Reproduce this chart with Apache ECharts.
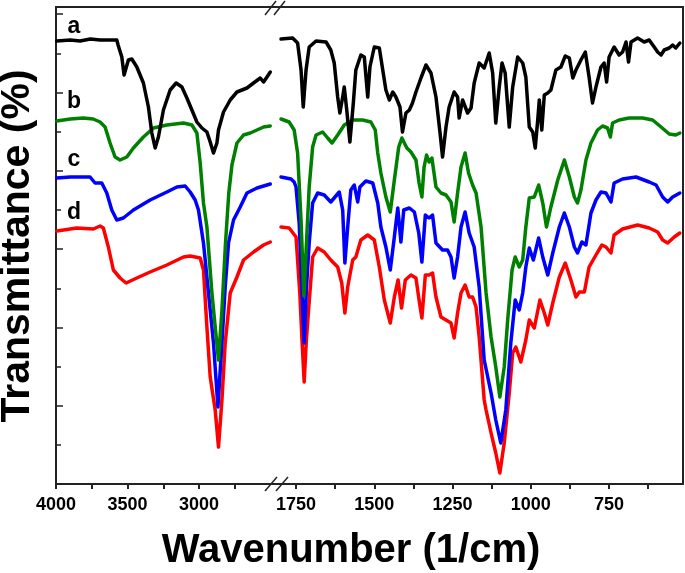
<!DOCTYPE html>
<html>
<head>
<meta charset="utf-8">
<script src="https://cdn.jsdelivr.net/npm/echarts@6/dist/echarts.min.js"></script>
<style>
html,body{margin:0;padding:0;background:#fff;}
#chart{width:685px;height:573px;}
</style>
</head>
<body>
<div id="chart"></div>
<script>
// Tick values and labels (wavenumber, cm^-1)
const leftTickValues = [4000, 3750, 3500, 3250, 3000, 2750];
const leftLabelValues = [4000, 3500, 3000];
const rightTickValues = [1750, 1625, 1500, 1375, 1250, 1125, 1000, 875, 750, 625];
const rightLabelValues = [1750, 1500, 1250, 1000, 750];
const seriesNames = ['a', 'b', 'c', 'd'];

// Spectrum a (black), [wavenumber, transmittance (arb.)]
const aLeft = [[3995,444],[3900,445],[3832,444],[3760,446],[3692,445],[3620,445],[3575,445],[3566,440],[3540,428],[3524,410],[3494,425],[3470,426],[3435,418],[3389,402],[3354,378],[3330,352],[3307,337],[3284,348],[3249,375],[3202,395],[3160,402],[3120,398],[3085,387],[3050,375],[3015,363],[2980,357],[2945,353],[2922,343],[2899,332],[2875,342],[2864,355],[2829,373],[2782,385],[2735,393],[2665,397],[2619,402],[2572,407],[2549,403],[2525,408],[2502,413]];
const aRight = [[1798,446],[1761,447],[1745,442],[1734,415],[1727,378],[1718,415],[1708,438],[1686,444],[1654,443],[1639,435],[1628,422],[1617,388],[1610,372],[1601,388],[1596,398],[1588,375],[1578,343],[1567,382],[1559,415],[1543,430],[1532,428],[1521,388],[1514,418],[1500,438],[1484,437],[1473,415],[1463,395],[1452,385],[1441,393],[1431,388],[1418,378],[1410,353],[1399,372],[1388,375],[1378,382],[1367,393],[1351,407],[1335,420],[1319,412],[1303,388],[1290,352],[1282,328],[1271,358],[1261,378],[1245,393],[1234,388],[1229,367],[1218,385],[1202,372],[1191,377],[1181,402],[1165,422],[1149,417],[1133,432],[1122,412],[1112,362],[1101,398],[1092,422],[1082,412],[1069,358],[1058,398],[1042,428],[1026,422],[1016,408],[1005,358],[994,353],[986,337],[978,365],[973,385],[965,355],[957,390],[946,392],[936,395],[920,415],[904,418],[890,429],[877,427],[866,407],[856,415],[840,425],[826,433],[814,408],[803,382],[792,398],[776,418],[766,422],[758,403],[750,428],[734,438],[718,430],[707,433],[696,443],[688,423],[680,443],[659,447],[638,443],[622,445],[606,438],[595,433],[584,430],[574,435],[558,437],[547,440],[537,437],[524,442]];

// Spectrum b (green)
const bLeft = [[3995,364],[3900,366],[3809,367],[3740,366],[3692,363],[3657,358],[3622,342],[3587,328],[3552,325],[3505,328],[3459,337],[3389,348],[3319,357],[3225,360],[3109,362],[3050,360],[3015,352],[2992,322],[2969,282],[2945,258],[2910,192],[2887,158],[2864,125],[2840,175],[2815,242],[2792,292],[2770,320],[2735,342],[2689,350],[2642,352],[2595,355],[2549,358],[2502,359]];
const bRight = [[1798,366],[1772,363],[1756,355],[1745,332],[1734,265],[1725,189],[1708,298],[1697,338],[1686,350],[1665,353],[1649,347],[1635,342],[1617,350],[1596,360],[1569,365],[1537,365],[1511,363],[1497,355],[1489,332],[1479,312],[1463,288],[1449,273],[1436,305],[1422,338],[1412,347],[1396,337],[1383,333],[1367,325],[1357,302],[1348,288],[1341,318],[1333,330],[1325,323],[1316,327],[1303,298],[1287,292],[1271,290],[1255,283],[1245,263],[1234,292],[1223,318],[1210,332],[1199,312],[1186,300],[1175,292],[1159,258],[1143,192],[1127,148],[1112,118],[1099,88],[1085,118],[1074,165],[1060,215],[1050,228],[1037,218],[1026,225],[1016,258],[1005,287],[989,288],[975,300],[962,282],[950,258],[936,278],[914,305],[893,325],[877,308],[861,288],[851,282],[840,295],[824,325],[808,342],[787,355],[771,359],[755,357],[746,348],[739,362],[718,365],[686,367],[643,367],[611,365],[584,358],[558,351],[537,350],[524,352]];

// Spectrum c (blue)
const cLeft = [[3995,307],[3900,308],[3832,308],[3762,308],[3727,302],[3680,302],[3645,292],[3610,275],[3575,265],[3529,267],[3459,275],[3342,285],[3225,293],[3155,298],[3097,299],[3062,293],[3027,285],[3004,275],[2969,242],[2934,192],[2899,142],[2868,78],[2840,142],[2817,198],[2794,242],[2759,265],[2712,278],[2665,292],[2595,297],[2502,301]];
const cRight = [[1798,308],[1766,306],[1756,303],[1750,298],[1740,262],[1731,195],[1724,142],[1717,195],[1708,242],[1697,282],[1681,292],[1660,290],[1639,283],[1612,293],[1601,275],[1594,222],[1585,258],[1575,295],[1564,300],[1553,283],[1546,298],[1527,304],[1505,302],[1489,282],[1479,258],[1463,238],[1449,215],[1436,248],[1425,277],[1415,243],[1406,275],[1388,277],[1372,273],[1358,252],[1348,223],[1337,270],[1325,267],[1314,270],[1303,242],[1282,235],[1266,235],[1255,228],[1245,207],[1234,228],[1223,258],[1210,273],[1197,252],[1181,238],[1165,198],[1149,125],[1127,92],[1112,65],[1096,42],[1080,75],[1064,142],[1050,185],[1037,175],[1026,192],[1016,218],[1005,237],[992,225],[975,247],[962,228],[946,210],[930,232],[909,258],[893,272],[877,258],[861,238],[851,232],[837,243],[824,240],[808,272],[792,285],[776,293],[760,292],[744,283],[734,302],[707,306],[664,308],[622,303],[600,300],[579,288],[563,283],[547,288],[524,292]];

// Spectrum d (red)
const dLeft = [[3995,254],[3900,256],[3855,257],[3739,256],[3692,259],[3669,257],[3634,238],[3599,215],[3552,207],[3510,202],[3435,207],[3342,213],[3225,220],[3109,228],[3062,229],[2992,227],[2969,215],[2945,158],[2922,108],[2887,75],[2864,38],[2840,85],[2817,142],[2782,192],[2735,208],[2689,225],[2619,233],[2549,240],[2502,243]];
const dRight = [[1798,258],[1772,257],[1750,248],[1738,192],[1731,145],[1724,103],[1717,145],[1710,175],[1697,228],[1681,237],[1660,233],[1639,225],[1617,218],[1604,202],[1594,172],[1585,198],[1569,225],[1559,228],[1543,245],[1521,250],[1500,245],[1484,218],[1468,185],[1449,162],[1436,188],[1424,205],[1413,177],[1401,205],[1383,210],[1367,207],[1357,185],[1348,167],[1337,210],[1325,210],[1314,212],[1303,188],[1287,168],[1271,165],[1255,162],[1245,147],[1234,172],[1223,192],[1210,200],[1197,188],[1186,188],[1175,178],[1165,148],[1149,85],[1143,75],[1127,52],[1112,32],[1099,12],[1085,42],[1069,92],[1058,132],[1048,138],[1032,123],[1016,145],[1005,165],[989,157],[971,185],[957,172],[946,160],[930,182],[909,208],[890,222],[872,205],[856,188],[845,193],[829,193],[814,218],[792,230],[773,240],[760,238],[744,232],[734,250],[707,256],[659,260],[622,257],[595,253],[579,245],[563,242],[542,248],[524,252]];

const colors = {a:'#000000', b:'#008000', c:'#0000ff', d:'#ff0000'};
const FONT = '"Liberation Sans", Arial, sans-serif';
const axisColor = '#222';

function lineSeries(name, data, side) {
  return {
    name: name, type: 'line', data: data,
    xAxisIndex: side, yAxisIndex: side,
    showSymbol: false, symbol: 'none', smooth: false,
    lineStyle: {color: colors[name], width: 3.5, join: 'round', cap: 'round'},
    itemStyle: {color: colors[name]},
    silent: true, z: 2
  };
}

const chart = echarts.init(document.getElementById('chart'), null, {renderer: 'canvas'});

const bottomAxis = (grid, min, max, ticks, labels) => ({
  gridIndex: grid, type: 'value', inverse: true, min: min, max: max, position: 'bottom',
  axisLine: {show: true, onZero: false, lineStyle: {color: axisColor, width: 2}},
  axisTick: {show: true, inside: false, length: 5, customValues: ticks, lineStyle: {color: axisColor, width: 2}},
  axisLabel: {show: true, customValues: labels, formatter: v => String(v), margin: 12, fontSize: 18, fontWeight: 'bold', color: '#000', fontFamily: FONT},
  splitLine: {show: false}
});
const topAxis = (grid, min, max) => ({
  gridIndex: grid, type: 'value', inverse: true, min: min, max: max, position: 'top',
  axisLine: {show: true, onZero: false, lineStyle: {color: axisColor, width: 2}},
  axisTick: {show: false}, axisLabel: {show: false}, splitLine: {show: false}
});

const labelY = {a: 27, b: 102, c: 160, d: 213};
const graphics = seriesNames.map(n => ({
  type: 'text', x: 74, y: labelY[n], z: 10,
  style: {text: n, fontSize: 23, fontWeight: 'bold', fontFamily: FONT, fill: '#000', align: 'center', verticalAlign: 'middle'}
}));
graphics.push({
  type: 'text', x: 18, y: 246, rotation: Math.PI / 2, z: 10,
  style: {text: 'Transmittance (%)', fontSize: 41, fontWeight: 'bold', fontFamily: FONT, fill: '#000', align: 'center', verticalAlign: 'middle'}
});
graphics.push({
  type: 'text', x: 351, y: 551, z: 10,
  style: {text: 'Wavenumber (1/cm)', fontSize: 40, fontWeight: 'bold', fontFamily: FONT, fill: '#000', align: 'center', verticalAlign: 'middle'}
});
// axis break marks
[[265,15,276,1],[274,15,285,1],[265,491,277,477],[276,491,288,477]].forEach(s => {
  graphics.push({type: 'line', z: 10, shape: {x1: s[0], y1: s[1], x2: s[2], y2: s[3]}, style: {stroke: axisColor, lineWidth: 1.5}});
});

chart.setOption({
  animation: false,
  backgroundColor: '#fff',
  grid: [
    {left: 56, top: 7, width: 220, height: 477},
    {left: 276, top: 7, width: 407, height: 477}
  ],
  xAxis: [
    bottomAxis(0, 2462, 4000, leftTickValues, leftLabelValues),
    bottomAxis(1, 514, 1814, rightTickValues, rightLabelValues),
    topAxis(0, 2462, 4000),
    topAxis(1, 514, 1814)
  ],
  yAxis: [
    {gridIndex: 0, type: 'value', min: 1, max: 478, interval: 78.3, position: 'left',
     axisLine: {show: true, onZero: false, lineStyle: {color: axisColor, width: 2}},
     axisTick: {show: true, inside: true, length: 7, lineStyle: {color: axisColor, width: 1.5}},
     minorTick: {show: true, splitNumber: 2, length: 5, lineStyle: {color: axisColor, width: 1.5}},
     axisLabel: {show: false}, splitLine: {show: false}, minorSplitLine: {show: false}},
    {gridIndex: 1, type: 'value', min: 1, max: 478, position: 'right',
     axisLine: {show: true, onZero: false, lineStyle: {color: axisColor, width: 2}},
     axisTick: {show: false}, axisLabel: {show: false}, splitLine: {show: false}}
  ],
  series: [
    lineSeries('d', dLeft, 0), lineSeries('d', dRight, 1),
    lineSeries('c', cLeft, 0), lineSeries('c', cRight, 1),
    lineSeries('b', bLeft, 0), lineSeries('b', bRight, 1),
    lineSeries('a', aLeft, 0), lineSeries('a', aRight, 1)
  ],
  graphic: graphics
});
</script>
</body>
</html>
